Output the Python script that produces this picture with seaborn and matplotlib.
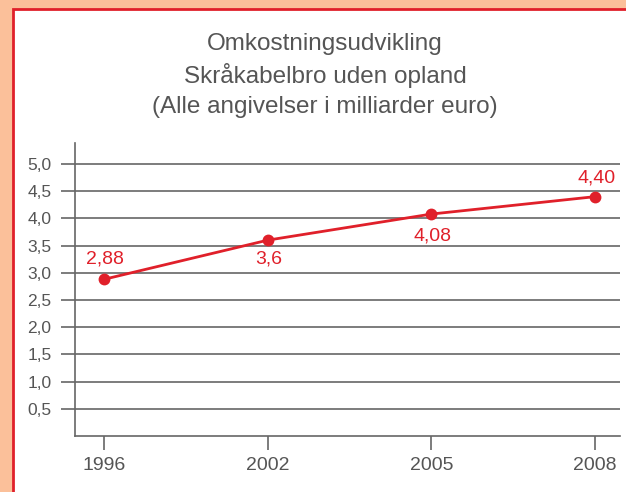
import matplotlib
matplotlib.use("Agg")
import matplotlib.pyplot as plt
import matplotlib.patches as patches
import seaborn as sns
import pandas as pd

# data
years = ["1996", "2002", "2005", "2008"]
costs = [2.88, 3.6, 4.08, 4.40]
cost_labels = ["2,88", "3,6", "4,08", "4,40"]
yticks = [0.5, 1.0, 1.5, 2.0, 2.5, 3.0, 3.5, 4.0, 4.5, 5.0]
ytick_labels = ["0,5", "1,0", "1,5", "2,0", "2,5", "3,0", "3,5", "4,0", "4,5", "5,0"]
title_lines = ["Omkostningsudvikling",
               "Skråkabelbro uden opland",
               "(Alle angivelser i milliarder euro)"]

sns.set_style("white")
plt.rcParams["font.family"] = ["Liberation Sans", "DejaVu Sans"]

red = "#E0202A"
grey = "#555555"

fig = plt.figure(figsize=(6.26, 4.92), dpi=100)
fig.patch.set_facecolor("#FBC09A")

# white panel with red edge
fig.patches.append(patches.Rectangle((13 / 626, -0.1), 1.1, 1 - 9 / 492 + 0.1,
                                     transform=fig.transFigure, facecolor="white",
                                     edgecolor=red, linewidth=2, zorder=-1))

ax = fig.add_axes([75 / 626, 1 - 436 / 492, 545 / 626, (436 - 143) / 492])
ax.set_facecolor("none")

df = pd.DataFrame({"year": years, "cost": costs})
sns.pointplot(data=df, x="year", y="cost", color=red, markers="o",
              markersize=7, linewidth=2, ax=ax, zorder=3)

# grid lines
for yv in yticks:
    ax.axhline(yv, color="#666666", linewidth=1.2, zorder=1)

ax.set_xlim(-0.177, 3.152)
ax.set_ylim(0, 5.386)
ax.set_yticks(yticks)
ax.set_yticklabels(ytick_labels)
ax.set_xticks(range(len(years)))
ax.set_xticklabels(years)
ax.set_xlabel("")
ax.set_ylabel("")

for s in ["top", "right"]:
    ax.spines[s].set_visible(False)
for s in ["left", "bottom"]:
    ax.spines[s].set_color("#666666")
    ax.spines[s].set_linewidth(1.2)

ax.tick_params(axis="y", length=10, width=1.2, color="#666666",
               labelsize=12.5, labelcolor=grey, pad=7, direction="out", left=True)
ax.tick_params(axis="x", length=10, width=1.2, color="#666666",
               labelsize=14, labelcolor=grey, pad=5, direction="out", bottom=True)

# value labels (offsets in points)
offsets = [14.5, -13.5, -16, 13.5]
for i, (v, lab) in enumerate(zip(costs, cost_labels)):
    ax.annotate(lab, (i, v), xytext=(1, offsets[i]), textcoords="offset points",
                color=red, fontsize=14, ha="center", va="center")

# title
for k, line in enumerate(title_lines):
    fig.text(325 / 626, 1 - (44 + 31.5 * k) / 492, line, color=grey,
             fontsize=17.5, ha="center", va="center")

fig.savefig("out.png", dpi=100, facecolor=fig.get_facecolor())
